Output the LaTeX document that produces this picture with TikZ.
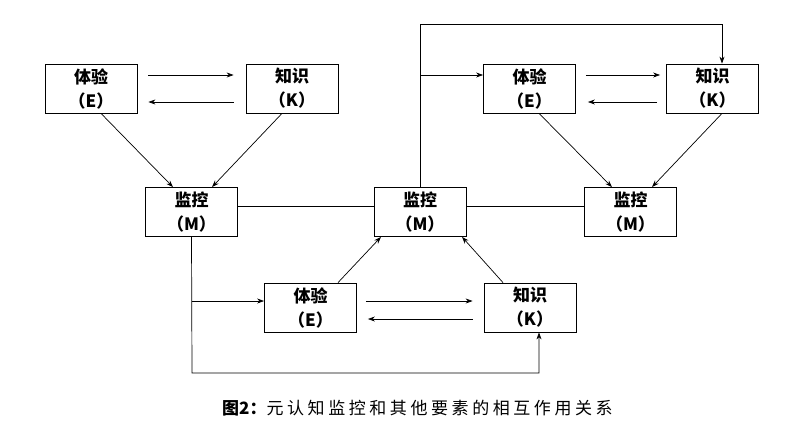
\documentclass[tikz,border=0pt]{standalone}
\usepackage{fontspec}
\newfontfamily\cjk{Noto Sans CJK SC}
\usetikzlibrary{arrows.meta}
\begin{document}
\begin{tikzpicture}[x=1pt,y=-1pt,
  box/.style={draw, line width=0.8pt, minimum width=92pt, minimum height=49pt, inner sep=0pt, align=center, font=\cjk\bfseries\fontsize{17}{24}\selectfont},
  arr/.style={-{Stealth[length=7pt,width=5pt]}, line width=0.7pt},
  ln/.style={line width=0.7pt}]
\useasboundingbox (0,0) rectangle (805,432);
\node[box] (E1) at (91,88.5) {体验\\（E）};
\node[box] (K1) at (292,88.5) {知识\\（K）};
\node[box] (M1) at (191.5,212) {监控\\（M）};
\node[box] (M2) at (420,212) {监控\\（M）};
\node[box] (E2) at (529.5,88.5) {体验\\（E）};
\node[box] (K2) at (712.5,88.5) {知识\\（K）};
\node[box] (M3) at (630.5,212) {监控\\（M）};
\node[box] (E3) at (310.5,307.5) {体验\\（E）};
\node[box] (K3) at (530,307.5) {知识\\（K）};
% left group
\draw[arr] ([shift={(11pt,13.5pt)}]E1.east) -- ([shift={(-12pt,13.5pt)}]K1.west);
\draw[arr] ([shift={(-12pt,-13.5pt)}]K1.west) -- ([shift={(11pt,-13.5pt)}]E1.east);
\draw[arr] ([xshift=10pt]E1.south) -- ([xshift=-18.5pt]M1.north);
\draw[arr] ([xshift=-10pt]K1.south) -- ([xshift=20.5pt]M1.north);
% M links
\draw[ln] ([yshift=6pt]M1.east) -- ([yshift=6pt]M2.west);
\draw[ln] ([yshift=6pt]M2.east) -- ([yshift=6pt]M3.west);
% top right
\coordinate (c1) at (420,24);
\coordinate (c2) at (420,75);
\draw[arr] (M2.north) -- (c1) -| ([xshift=9.5pt]K2.north);
\draw[arr] (c2) -- ([yshift=13.5pt]E2.west);
\draw[arr] ([shift={(10pt,13.5pt)}]E2.east) -- ([shift={(-6pt,13.5pt)}]K2.west);
\draw[arr] ([shift={(-9pt,-13.5pt)}]K2.west) -- ([shift={(12pt,-13.5pt)}]E2.east);
\draw[arr] ([xshift=9.5pt]E2.south) -- ([xshift=-18.5pt]M3.north);
\draw[arr] ([xshift=9.5pt]K2.south) -- ([xshift=21.5pt]M3.north);
% bottom
\coordinate (c3) at (192,373);
\coordinate (c4) at (192,301);
\draw[arr] (M1.south) -- (c3) -| ([xshift=9pt]K3.south);
\draw[arr] (c4) -- ([yshift=6.5pt]E3.west);
\draw[arr] ([shift={(9pt,6.5pt)}]E3.east) -- ([shift={(-11pt,6.5pt)}]K3.west);
\draw[arr] ([shift={(-11pt,-11.5pt)}]K3.west) -- ([shift={(11pt,-11.5pt)}]E3.east);
\draw[arr] ([xshift=27.5pt]E3.north) -- ([xshift=-39pt]M2.south);
\draw[arr] ([xshift=-27pt]K3.north) -- ([xshift=42pt]M2.south);
% caption
\node[anchor=west, inner sep=0pt] (cap) at (222,408) {\cjk\fontsize{17}{20}\selectfont\textbf{图2：}{\addfontfeatures{LetterSpace=21}元认知监控和其他要素的相互作用关系}};
\end{tikzpicture}
\end{document}
